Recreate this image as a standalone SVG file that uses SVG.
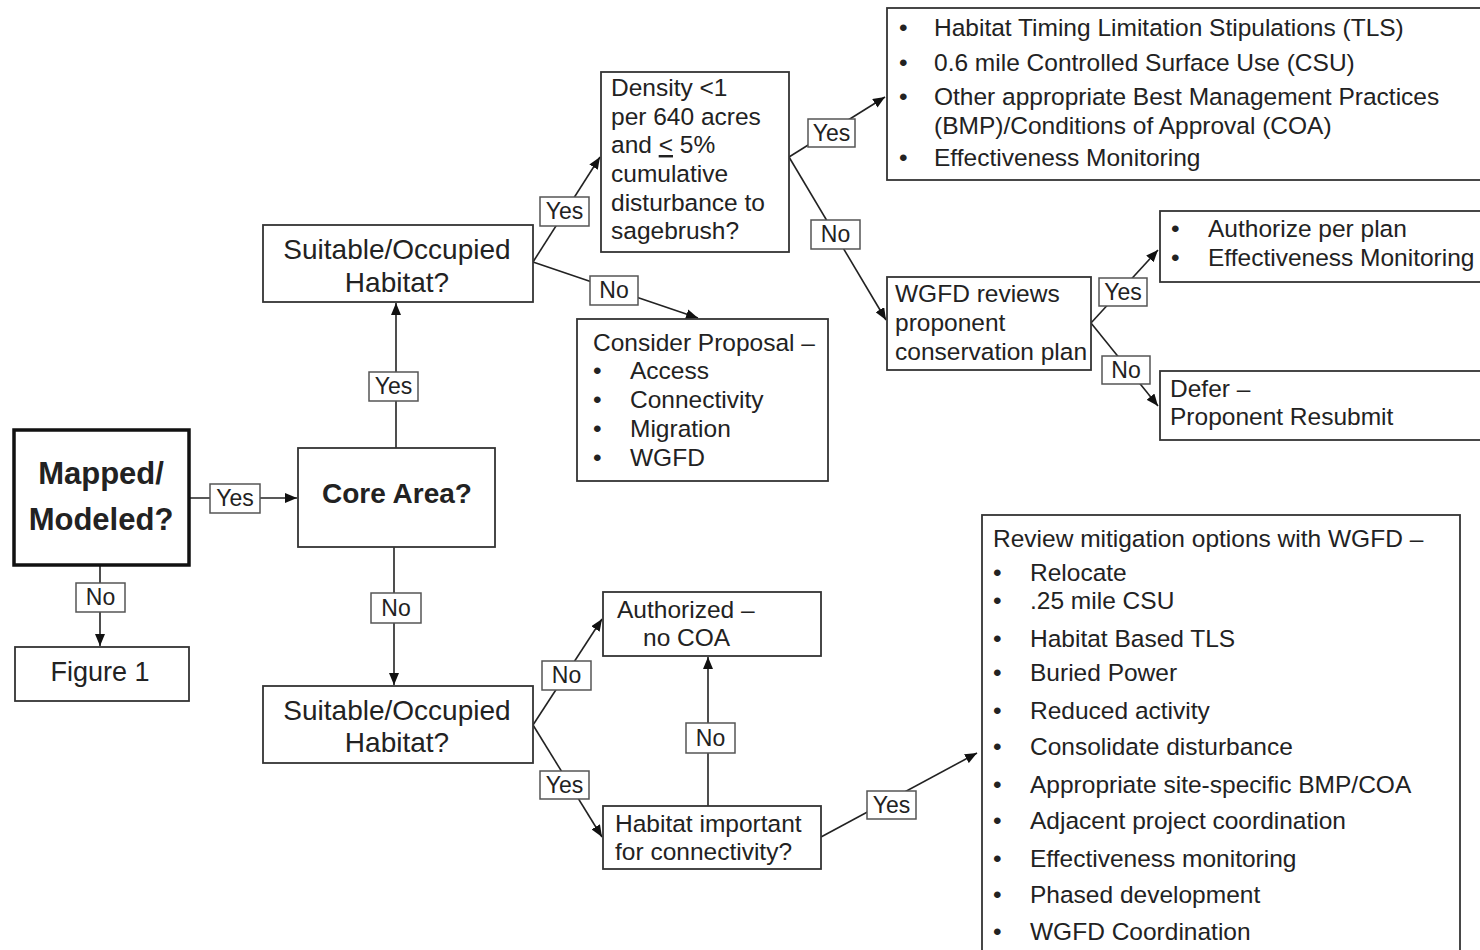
<svg xmlns="http://www.w3.org/2000/svg" width="1480" height="950" viewBox="0 0 1480 950">
<style>
.box{fill:#fff;stroke:#333;stroke-width:1.8}
.t{font-family:"Liberation Sans",Arial,sans-serif;font-size:24.5px;fill:#222}
.s{font-size:28px}
.b{font-weight:bold}
.m{font-size:31px}
.f{font-size:27px}
.k{font-size:28px}
.c{text-anchor:middle}
.lbl rect{fill:#fff;stroke:#555;stroke-width:1.5}
.lbl text{font-family:"Liberation Sans",Arial,sans-serif;font-size:23px;fill:#222;text-anchor:middle}
.conn{stroke:#222;stroke-width:1.6;fill:none;marker-end:url(#arr)}
</style>
<defs>
<marker id="arr" markerWidth="12" markerHeight="10" refX="12" refY="5" orient="auto" markerUnits="userSpaceOnUse">
<path d="M0,0 L12,5 L0,10 z" fill="#111"/>
</marker>
</defs>
<rect width="1480" height="950" fill="#fff"/>

<g id="connectors">
<line class="conn" x1="189" y1="498" x2="297" y2="498"/>
<line class="conn" x1="100" y1="565" x2="100" y2="646"/>
<line class="conn" x1="396" y1="448" x2="396" y2="303"/>
<line class="conn" x1="394" y1="547" x2="394" y2="685"/>
<line class="conn" x1="533" y1="262" x2="600" y2="157"/>
<line class="conn" x1="533" y1="262" x2="698" y2="318"/>
<line class="conn" x1="789" y1="157" x2="885" y2="97"/>
<line class="conn" x1="789" y1="157" x2="886" y2="320"/>
<line class="conn" x1="1091" y1="323" x2="1158" y2="250"/>
<line class="conn" x1="1091" y1="323" x2="1158" y2="406"/>
<line class="conn" x1="533" y1="725" x2="602" y2="619"/>
<line class="conn" x1="533" y1="725" x2="602" y2="837"/>
<line class="conn" x1="708" y1="806" x2="708" y2="657"/>
<line class="conn" x1="821" y1="837" x2="977" y2="753"/>
<g class="lbl">
<rect x="210" y="484" width="50" height="29"/><text x="235" y="506">Yes</text>
<rect x="76" y="583" width="49" height="29"/><text x="100.5" y="605">No</text>
<rect x="369" y="372" width="49" height="29"/><text x="393.5" y="394">Yes</text>
<rect x="371" y="593" width="50" height="30"/><text x="396" y="616">No</text>
<rect x="540" y="197" width="49" height="29"/><text x="564.5" y="219">Yes</text>
<rect x="590" y="276" width="48" height="29"/><text x="614" y="298">No</text>
<rect x="808" y="119" width="47" height="28"/><text x="831.5" y="141">Yes</text>
<rect x="811" y="220" width="49" height="29"/><text x="835.5" y="242">No</text>
<rect x="1099" y="278" width="48" height="28"/><text x="1123" y="300">Yes</text>
<rect x="1102" y="356" width="48" height="28"/><text x="1126" y="378">No</text>
<rect x="542" y="661" width="49" height="29"/><text x="566.5" y="683">No</text>
<rect x="540" y="771" width="49" height="28"/><text x="564.5" y="793">Yes</text>
<rect x="686" y="723" width="49" height="30"/><text x="710.5" y="746">No</text>
<rect x="867" y="791" width="49" height="28"/><text x="891.5" y="813">Yes</text>
</g>
</g>

<g id="mapped">
<rect x="14" y="430" width="175" height="135" fill="#fff" stroke="#111" stroke-width="3.5"/>
<text class="t b c m" x="101" y="484">Mapped/</text>
<text class="t b c m" x="101" y="530">Modeled?</text>
</g>
<g id="figure1">
<rect class="box" x="15" y="647" width="174" height="54"/>
<text class="t c f" x="100" y="681">Figure 1</text>
</g>
<g id="core">
<rect class="box" x="298" y="448" width="197" height="99"/>
<text class="t b c k" x="397" y="503">Core Area?</text>
</g>
<g id="suitable-top">
<rect class="box" x="263" y="225" width="270" height="77"/>
<text class="t s c" x="397" y="259">Suitable/Occupied</text>
<text class="t s c" x="397" y="292">Habitat?</text>
</g>
<g id="suitable-bottom">
<rect class="box" x="263" y="686" width="270" height="77"/>
<text class="t s c" x="397" y="720">Suitable/Occupied</text>
<text class="t s c" x="397" y="752">Habitat?</text>
</g>
<g id="density">
<rect class="box" x="601" y="72" width="188" height="180"/>
<text class="t" x="611" y="96">Density &lt;1</text>
<text class="t" x="611" y="125">per 640 acres</text>
<text class="t" x="611" y="153">and <tspan text-decoration="underline">&lt;</tspan> 5%</text>
<text class="t" x="611" y="182">cumulative</text>
<text class="t" x="611" y="211">disturbance to</text>
<text class="t" x="611" y="239">sagebrush?</text>
</g>
<g id="consider">
<rect class="box" x="577" y="319" width="251" height="162"/>
<text class="t" x="593" y="351">Consider Proposal –</text>
<text class="t" x="593" y="379">•</text><text class="t" x="630" y="379">Access</text>
<text class="t" x="593" y="408">•</text><text class="t" x="630" y="408">Connectivity</text>
<text class="t" x="593" y="437">•</text><text class="t" x="630" y="437">Migration</text>
<text class="t" x="593" y="466">•</text><text class="t" x="630" y="466">WGFD</text>
</g>
<g id="tls">
<rect class="box" x="887" y="8" width="600" height="172"/>
<text class="t" x="899" y="36">•</text><text class="t" x="934" y="36">Habitat Timing Limitation Stipulations (TLS)</text>
<text class="t" x="899" y="71">•</text><text class="t" x="934" y="71">0.6 mile Controlled Surface Use (CSU)</text>
<text class="t" x="899" y="105">•</text><text class="t" x="934" y="105">Other appropriate Best Management Practices</text>
<text class="t" x="934" y="134">(BMP)/Conditions of Approval (COA)</text>
<text class="t" x="899" y="166">•</text><text class="t" x="934" y="166">Effectiveness Monitoring</text>
</g>
<g id="wgfd">
<rect class="box" x="887" y="277" width="204" height="93"/>
<text class="t" x="895" y="302">WGFD reviews</text>
<text class="t" x="895" y="331">proponent</text>
<text class="t" x="895" y="360">conservation plan</text>
</g>
<g id="authorize">
<rect class="box" x="1160" y="211" width="330" height="71"/>
<text class="t" x="1171" y="237">•</text><text class="t" x="1208" y="237">Authorize per plan</text>
<text class="t" x="1171" y="266">•</text><text class="t" x="1208" y="266">Effectiveness Monitoring</text>
</g>
<g id="defer">
<rect class="box" x="1160" y="371" width="330" height="69"/>
<text class="t" x="1170" y="397">Defer –</text>
<text class="t" x="1170" y="425">Proponent Resubmit</text>
</g>
<g id="authorized">
<rect class="box" x="603" y="592" width="218" height="64"/>
<text class="t" x="617" y="618">Authorized –</text>
<text class="t" x="643" y="646">no COA</text>
</g>
<g id="habitat-important">
<rect class="box" x="603" y="806" width="218" height="63"/>
<text class="t" x="615" y="832">Habitat important</text>
<text class="t" x="615" y="860">for connectivity?</text>
</g>
<g id="review">
<rect class="box" x="982" y="515" width="478" height="450"/>
<text class="t" x="993" y="547">Review mitigation options with WGFD –</text>
<text class="t" x="993" y="581">•</text><text class="t" x="1030" y="581">Relocate</text>
<text class="t" x="993" y="609">•</text><text class="t" x="1030" y="609">.25 mile CSU</text>
<text class="t" x="993" y="647">•</text><text class="t" x="1030" y="647">Habitat Based TLS</text>
<text class="t" x="993" y="681">•</text><text class="t" x="1030" y="681">Buried Power</text>
<text class="t" x="993" y="719">•</text><text class="t" x="1030" y="719">Reduced activity</text>
<text class="t" x="993" y="755">•</text><text class="t" x="1030" y="755">Consolidate disturbance</text>
<text class="t" x="993" y="793">•</text><text class="t" x="1030" y="793">Appropriate site-specific BMP/COA</text>
<text class="t" x="993" y="829">•</text><text class="t" x="1030" y="829">Adjacent project coordination</text>
<text class="t" x="993" y="867">•</text><text class="t" x="1030" y="867">Effectiveness monitoring</text>
<text class="t" x="993" y="903">•</text><text class="t" x="1030" y="903">Phased development</text>
<text class="t" x="993" y="940">•</text><text class="t" x="1030" y="940">WGFD Coordination</text>
</g>
</svg>
